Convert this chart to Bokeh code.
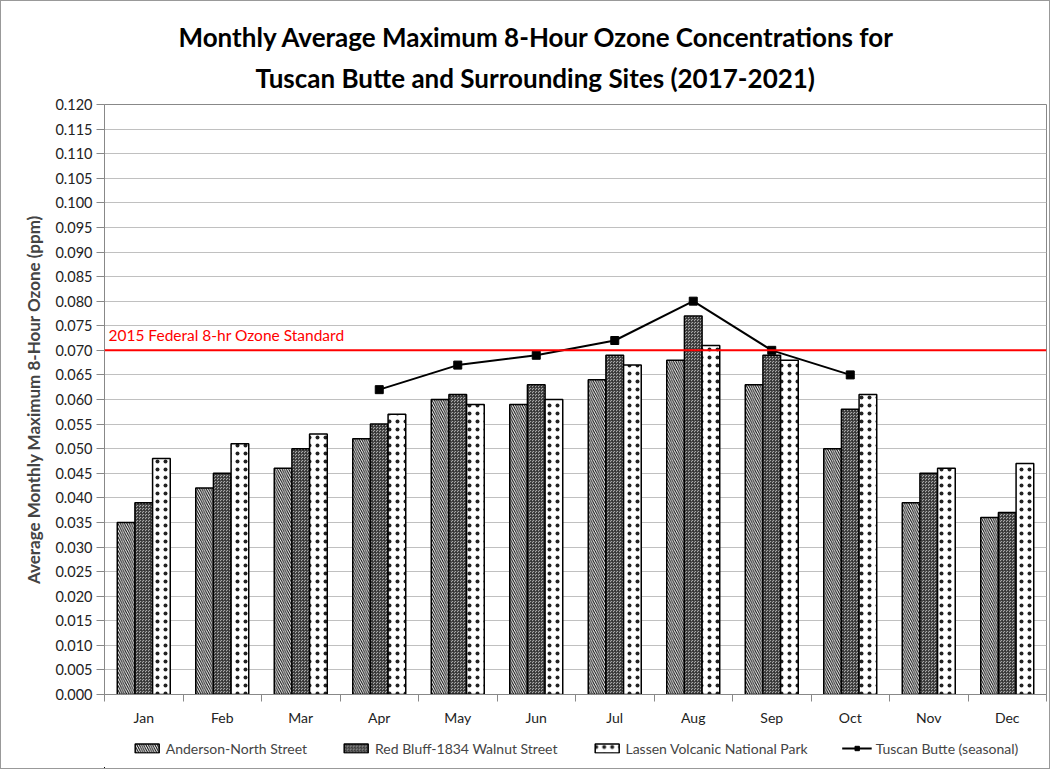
from bokeh.plotting import figure
from bokeh.layouts import column
from bokeh.models import (ColumnDataSource, Span, Label, Title, Legend, LegendItem,
                          FixedTicker, NumeralTickFormatter, Range1d)
from bokeh.transform import dodge
from bokeh.embed import file_html
from bokeh.resources import INLINE

months = ["Jan", "Feb", "Mar", "Apr", "May", "Jun", "Jul", "Aug", "Sep", "Oct", "Nov", "Dec"]
anderson = [0.035, 0.042, 0.046, 0.052, 0.060, 0.059, 0.064, 0.068, 0.063, 0.050, 0.039, 0.036]
red_bluff = [0.039, 0.045, 0.050, 0.055, 0.061, 0.063, 0.069, 0.077, 0.069, 0.058, 0.045, 0.037]
lassen = [0.048, 0.051, 0.053, 0.057, 0.059, 0.060, 0.067, 0.071, 0.068, 0.061, 0.046, 0.047]
tuscan_months = ["Apr", "May", "Jun", "Jul", "Aug", "Sep", "Oct"]
tuscan = [0.062, 0.067, 0.069, 0.072, 0.080, 0.070, 0.065]
standard = 0.070
y_ticks = [i * 0.005 for i in range(25)]

FONT = "Lato"

idx = list(range(1, 13))
src = ColumnDataSource(dict(x=idx, anderson=anderson, red_bluff=red_bluff, lassen=lassen))
tsrc = ColumnDataSource(dict(x=[months.index(m) + 1 for m in tuscan_months], y=tuscan))

p = figure(frame_width=942, frame_height=590, output_backend="svg", toolbar_location=None,
           x_range=Range1d(0.5, 12.5), y_range=Range1d(0, 0.120),
           min_border_left=103, min_border_top=103, min_border_right=3, min_border_bottom=0)

p.add_layout(Title(text="Tuscan Butte and Surrounding Sites (2017-2021)", align="left",
                   text_font=FONT, text_font_size="26px", text_font_style="bold",
                   text_color="black", standoff=22, offset=151), "above")
p.add_layout(Title(text="Monthly Average Maximum 8-Hour Ozone Concentrations for", align="left",
                   text_font=FONT, text_font_size="26px", text_font_style="bold",
                   text_color="black", standoff=-9, offset=74), "above")

w = 0.225
bar_styles = [
    dict(fill_color="white", line_color="black", line_width=1.5,
         hatch_pattern="left_diagonal_line", hatch_color="black", hatch_scale=4.5, hatch_weight=1),
    dict(fill_color="#a8a8a8", line_color="black", line_width=1.5,
         hatch_pattern="criss_cross", hatch_color="#333333", hatch_scale=3, hatch_weight=0.8),
    dict(fill_color="white", line_color="black", line_width=1.5,
         hatch_pattern="dot", hatch_color="#222222", hatch_scale=8, hatch_weight=0.5),
]


def draw(fig):
    a = fig.vbar(x=dodge("x", -w, range=fig.x_range), top="anderson", width=w, source=src, **bar_styles[0])
    b = fig.vbar(x="x", top="red_bluff", width=w, source=src, **bar_styles[1])
    c = fig.vbar(x=dodge("x", w, range=fig.x_range), top="lassen", width=w, source=src, **bar_styles[2])
    ln = fig.line("x", "y", source=tsrc, line_color="black", line_width=2)
    sc = fig.scatter("x", "y", source=tsrc, marker="square", size=8, fill_color="black", line_color="black")
    return a, b, c, ln, sc


p.add_layout(Span(location=standard, dimension="width", line_color="red", line_width=2))
p.add_layout(Label(x=0.55, y=standard, y_offset=6, text="2015 Federal 8-hr Ozone Standard",
                   text_color="red", text_font=FONT, text_font_size="15.5px", text_baseline="bottom"))
draw(p)

# axes
p.xgrid.visible = False
p.ygrid.grid_line_color = "#c0c0c0"
p.ygrid.grid_line_width = 1.2
p.yaxis.ticker = FixedTicker(ticks=y_ticks)
p.yaxis.formatter = NumeralTickFormatter(format="0.000")
p.yaxis.minor_tick_line_color = None
p.yaxis.major_tick_in = 0
p.yaxis.major_tick_out = 8
p.yaxis.axis_line_color = "#888888"
p.yaxis.major_tick_line_color = "#888888"
p.yaxis.major_label_text_font = FONT
p.yaxis.major_label_text_font_size = "14.5px"
p.yaxis.major_label_text_color = "#222222"
p.yaxis.major_label_standoff = 4
p.yaxis.axis_label = "Average Monthly Maximum 8-Hour Ozone (ppm)"
p.yaxis.axis_label_text_font = FONT
p.yaxis.axis_label_text_font_size = "17px"
p.yaxis.axis_label_text_font_style = "bold"
p.yaxis.axis_label_standoff = 8

p.xaxis.ticker = FixedTicker(ticks=idx, minor_ticks=[i + 0.5 for i in range(0, 13)])
p.xaxis.major_label_overrides = {i: m for i, m in zip(idx, months)}
p.xaxis.major_tick_in = 0
p.xaxis.major_tick_out = 0
p.xaxis.minor_tick_in = 0
p.xaxis.minor_tick_out = 7
p.xaxis.minor_tick_line_color = "#888888"
p.xaxis.axis_line_color = "#888888"
p.xaxis.major_label_text_font = FONT
p.xaxis.major_label_text_font_size = "14px"
p.xaxis.major_label_text_color = "#222222"
p.xaxis.major_label_standoff = 7

p.outline_line_color = "#888888"

# legend strip below the chart (its glyphs come from renderers kept out of view)
lg = figure(width=1048, height=40, output_backend="svg", toolbar_location=None,
            x_range=Range1d(100, 101), y_range=Range1d(100, 101),
            x_axis_location=None, y_axis_location=None, min_border=0)
lg.grid.visible = False
lg.outline_line_color = None
r1, r2, r3, l4, s4 = draw(lg)

legend = Legend(items=[
    LegendItem(label="Anderson-North Street", renderers=[r1]),
    LegendItem(label="Red Bluff-1834 Walnut Street", renderers=[r2]),
    LegendItem(label="Lassen Volcanic National Park", renderers=[r3]),
    LegendItem(label="Tuscan Butte (seasonal)", renderers=[l4, s4]),
], orientation="horizontal", location="center", border_line_alpha=0, background_fill_alpha=0,
    label_text_font=FONT, label_text_font_size="14px", spacing=34,
    glyph_width=30, glyph_height=11, label_standoff=4, padding=4, margin=0)
lg.add_layout(legend, "center")

layout = column(p, lg, styles={"border": "1px solid #999999"})

open("out.html", "w").write(file_html(layout, INLINE))
